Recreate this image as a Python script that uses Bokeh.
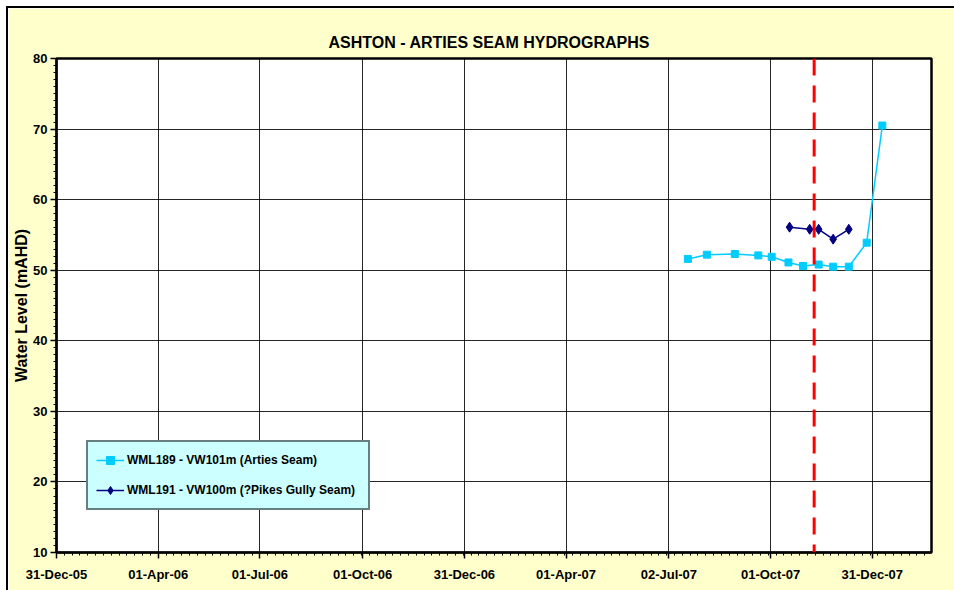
import pandas as pd
from bokeh.plotting import figure
from bokeh.models import (Range1d, FixedTicker, Span, Legend, LegendItem)
from bokeh.embed import file_html
from bokeh.resources import INLINE

# ---- data ----
title_text = "ASHTON - ARTIES SEAM HYDROGRAPHS"
y_label = "Water Level (mAHD)"

wml189_name = "WML189 - VW101m (Arties Seam)"
wml189_dates = ["2007-07-19", "2007-08-05", "2007-08-30", "2007-09-20", "2007-10-02",
                "2007-10-17", "2007-10-30", "2007-11-13", "2007-11-26", "2007-12-10",
                "2007-12-26", "2008-01-09"]
wml189_levels = [51.6, 52.2, 52.3, 52.1, 51.9, 51.1, 50.6, 50.8, 50.5, 50.5, 53.9, 70.5]

wml191_name = "WML191 - VW100m (?Pikes Gully Seam)"
wml191_dates = ["2007-10-18", "2007-11-05", "2007-11-13", "2007-11-26", "2007-12-10"]
wml191_levels = [56.1, 55.8, 55.8, 54.4, 55.8]

marker_date = "2007-11-09"

x_tick_dates = ["2005-12-31", "2006-04-01", "2006-07-01", "2006-10-01", "2006-12-31",
                "2007-04-01", "2007-07-02", "2007-10-01", "2007-12-31"]
x_tick_labels = ["31-Dec-05", "01-Apr-06", "01-Jul-06", "01-Oct-06", "31-Dec-06",
                 "01-Apr-07", "02-Jul-07", "01-Oct-07", "31-Dec-07"]
x_min, x_max = "2005-12-31", "2008-02-22"
y_ticks = [10, 20, 30, 40, 50, 60, 70, 80]

FONT = "Liberation Sans"
LIGHT = "#00CCFF"
NAVY = "#000080"


def ms(d):
    return pd.Timestamp(d).value / 1e6


p = figure(width=946, height=582, x_axis_type="datetime", output_backend="svg",
           toolbar_location=None, tools="",
           x_range=Range1d(pd.Timestamp(x_min), pd.Timestamp(x_max)),
           y_range=Range1d(10, 80),
           min_border_left=48, min_border_right=23, min_border_top=50, min_border_bottom=38)
p.styles = {"outline": "2.5px solid black", "margin-left": "8px", "margin-top": "8px"}

p.border_fill_color = "#FFFFCC"
p.background_fill_color = "white"
p.outline_line_color = "black"
p.outline_line_width = 2.5

p.title.text = title_text
p.title.align = "left"
p.title.offset = 272
p.title.text_font = FONT
p.title.text_font_style = "bold"
p.title.text_font_size = "16px"
p.title.text_color = "black"
p.title.standoff = 16

# ticks
major_ms = [ms(d) for d in x_tick_dates]
day = 86400000.0
minor_ms = []
t = ms(x_min)
while t <= ms(x_max):
    minor_ms.append(t)
    t += 7 * day
p.xaxis.ticker = FixedTicker(ticks=major_ms, minor_ticks=minor_ms)
p.xaxis.major_label_overrides = {m: l for m, l in zip(major_ms, x_tick_labels)}
p.yaxis.ticker = FixedTicker(ticks=y_ticks, minor_ticks=list(range(10, 81)))

for ax in (p.xaxis, p.yaxis):
    ax.axis_line_width = 2
    ax.axis_line_color = "black"
    ax.major_tick_line_color = "black"
    ax.minor_tick_line_color = "black"
    ax.major_tick_line_width = 1.5
    ax.minor_tick_line_width = 1
    ax.major_tick_out = 6
    ax.major_tick_in = 0
    ax.minor_tick_out = 3
    ax.minor_tick_in = 0
    ax.major_label_text_font = FONT
    ax.major_label_text_font_style = "bold"
    ax.major_label_text_font_size = "13px"
    ax.major_label_text_color = "black"

p.xaxis.major_label_standoff = 8
p.yaxis.major_label_standoff = 3
p.yaxis.axis_label = y_label
p.yaxis.axis_label_text_font = FONT
p.yaxis.axis_label_text_font_style = "bold"
p.yaxis.axis_label_text_font_size = "16px"
p.yaxis.axis_label_text_color = "black"
p.yaxis.axis_label_standoff = 0

p.grid.grid_line_color = "black"
p.grid.grid_line_width = 1
p.grid.grid_line_alpha = 0.85

d189 = [pd.Timestamp(d) for d in wml189_dates]
d191 = [pd.Timestamp(d) for d in wml191_dates]

l1 = p.line(d189, wml189_levels, line_color=LIGHT, line_width=1.5)
s1 = p.scatter(d189, wml189_levels, marker="square", size=7, fill_color=LIGHT, line_color=LIGHT)
l2 = p.line(d191, wml191_levels, line_color=NAVY, line_width=1.5)
s2 = p.scatter(d191, wml191_levels, marker="diamond", size=10, fill_color=NAVY, line_color=NAVY)

p.add_layout(Span(location=pd.Timestamp(marker_date), dimension="height",
                  line_color="#FF0000", line_width=3, line_dash="17 10"))

legend = Legend(items=[LegendItem(label=wml189_name, renderers=[l1, s1]),
                       LegendItem(label=wml191_name, renderers=[l2, s2])],
                location=(30, 42), orientation="vertical")
legend.background_fill_color = "#CCFFFF"
legend.background_fill_alpha = 1
legend.border_line_color = "black"
legend.border_line_width = 2
legend.label_text_font = FONT
legend.label_text_font_style = "bold"
legend.label_text_font_size = "12px"
legend.label_text_color = "black"
legend.glyph_width = 28
legend.label_standoff = 3
legend.label_width = 233
legend.label_height = 20
legend.spacing = 10
legend.padding = 8
legend.margin = 0
p.add_layout(legend, "center")

open("out.html", "w").write(file_html(p, INLINE))
